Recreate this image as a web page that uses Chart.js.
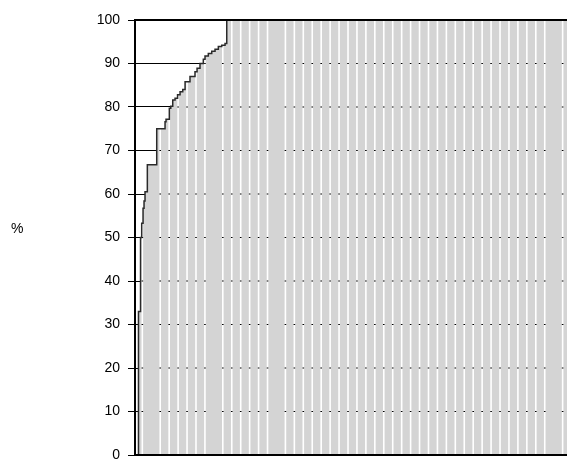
<!DOCTYPE html>
<html>
<head>
<meta charset="utf-8">
<script src="https://cdn.jsdelivr.net/npm/chart.js@4.4.1/dist/chart.umd.min.js"></script>
<style>
    body { margin: 0; overflow: hidden; background: #fff; }
    #wrap { position: relative; width: 567px; height: 463px; overflow: hidden; }
    #unidad { position: absolute; left: 11px; top: 220px; font: 14px "Liberation Sans", Arial, sans-serif; color: #000; }
    canvas { position: absolute; left: 0; top: 0; }
</style>
</head>
<body>
<div id="wrap">
    <canvas id="grafica" width="600" height="463"></canvas>
    <div id="unidad">%</div>
</div>
<script>
// curva acumulada (escalones), x en unidades de columna
const curvaX = [0, 0.39, 0.62, 0.75, 0.90, 1.01, 1.12, 1.38, 2.43, 3.36, 3.47, 3.84, 4.00, 4.22, 4.48, 4.76, 5.04, 5.34, 5.60, 6.15, 6.71, 6.94, 7.27, 7.64, 7.83, 8.20, 8.58, 8.95, 9.32, 9.70, 10.07, 10.26, 52];
const curvaY = [0, 33, 50, 53.3, 56.7, 58.4, 60.5, 66.7, 75, 76.6, 77.2, 79.7, 80.2, 81.6, 82, 82.8, 83.5, 84, 85.8, 87, 88.1, 88.9, 90, 91, 91.7, 92.3, 92.8, 93.3, 93.9, 94.2, 94.6, 100, 100];
// separaciones blancas entre columnas
const separaciones = [0, 2, 3, 4, 5, 6, 7, 9, 10, 11, 12, 13, 14, 16, 17, 18, 19, 20, 21, 22, 23, 24, 25, 26, 27, 28, 29, 30, 31, 32, 33, 34, 35, 36, 37, 38, 39, 40, 41, 42, 43, 44, 45, 47, 48, 49, 50].map(k => k + 0.82);
const ticksY = [0, 10, 20, 30, 40, 50, 60, 70, 80, 90, 100];

const puntos = curvaX.map((x, i) => ({ x: x, y: curvaY[i] }));

const valorEn = (x) => {
    let v = 0;
    puntos.forEach(p => { if (p.x <= x) v = p.y; });
    return v;
};

const separadores = {
    id: 'separadores',
    afterDatasetDraw(chart, args) {
        if (args.index !== 0) return;
        const { ctx, chartArea, scales } = chart;
        ctx.save();
        separaciones.forEach(s => {
            const px = scales.x.getPixelForValue(s);
            if (px > chartArea.right) return;
            const v = valorEn(s);
            const arriba = scales.y.getPixelForValue(v);
            const abajo = scales.y.getPixelForValue(0);
            ctx.fillStyle = '#ffffff';
            ctx.fillRect(px - 0.8, arriba, 1.6, abajo - arriba);
            ctx.fillStyle = '#000000';
            ticksY.forEach(t => {
                if (t > 0 && t < v) ctx.fillRect(px - 0.8, scales.y.getPixelForValue(t) - 0.5, 1.6, 1);
            });
        });
        ctx.restore();
    },
    afterDatasetsDraw(chart) {
        const { ctx, chartArea } = chart;
        ctx.save();
        ctx.strokeStyle = '#000';
        ctx.lineWidth = 2;
        ctx.beginPath();
        ctx.moveTo(chartArea.left, chartArea.top);
        ctx.lineTo(chartArea.right, chartArea.top);
        ctx.stroke();
        ctx.restore();
    }
};

new Chart(document.getElementById('grafica'), {
    type: 'line',
    data: {
        datasets: [{
            data: puntos,
            stepped: 'before',
            fill: 'origin',
            backgroundColor: '#d4d4d4',
            borderWidth: 0,
            pointRadius: 0,
            order: 2
        }, {
            data: puntos,
            stepped: 'before',
            fill: false,
            borderColor: '#2a2a2a',
            borderWidth: 1.5,
            pointRadius: 0,
            order: 1
        }]
    },
    options: {
        responsive: false,
        animation: false,
        layout: { padding: { top: 20, bottom: 8, left: 0, right: 0 } },
        plugins: {
            legend: { display: false },
            tooltip: { enabled: false }
        },
        scales: {
            x: {
                type: 'linear',
                min: 0,
                max: 52,
                ticks: { display: false },
                grid: { display: false, drawTicks: false },
                border: { display: true, color: '#000', width: 2, z: 1 },
                afterFit: (scale) => { scale.height = 0; }
            },
            y: {
                min: 0,
                max: 100,
                afterBuildTicks: (scale) => { scale.ticks = ticksY.map(v => ({ value: v })); },
                afterFit: (scale) => {
                    scale.width = 135;
                    scale.paddingTop = 0;
                    scale.paddingBottom = 0;
                },
                ticks: {
                    color: '#000',
                    padding: 8,
                    font: { family: '"Liberation Sans", Arial, sans-serif', size: 14 }
                },
                grid: { color: '#000', lineWidth: 1, tickLength: 7 },
                border: { display: true, color: '#000', width: 2, z: 1 }
            }
        }
    },
    plugins: [separadores]
});
</script>
</body>
</html>
